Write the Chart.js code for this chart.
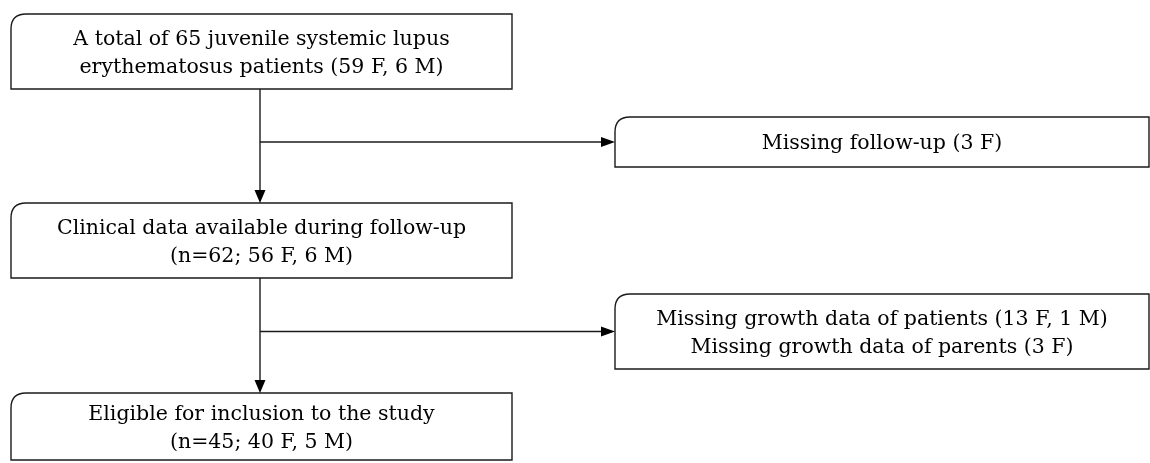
<!DOCTYPE html>
<html lang="en">
<head>
  <meta charset="UTF-8">
  <title>Flow chart</title>
  <script src="https://cdn.jsdelivr.net/npm/chart.js"></script>
  <style>
    html, body { margin: 0; padding: 0; background: #fff; }
  </style>
</head>
<body>
  <canvas id="flowChart" width="1150" height="463"></canvas>
  <script>
    // box texts (one entry per box, lines split by \n)
    const boxLabels = [
      'A total of 65 juvenile systemic lupus\nerythematosus patients (59 F, 6 M)',
      'Missing follow-up (3 F)',
      'Clinical data available during follow-up\n(n=62; 56 F, 6 M)',
      'Missing growth data of patients (13 F, 1 M)\nMissing growth data of parents (3 F)',
      'Eligible for inclusion to the study\n(n=45; 40 F, 5 M)'
    ];
    // box extents in chart units
    const boxLeft = [11, 615, 11, 615, 11];
    const boxRight = [512, 1149, 512, 1149, 512];
    const boxTop = [14, 117, 203, 294, 393];
    const boxBottom = [89, 167, 278, 369, 460];

    // main vertical connectors: from box -> to box
    const trunkFrom = [0, 2];
    const trunkTo = [2, 4];
    const trunkX = 260;
    // side branches: from trunk to the right boxes
    const branchTo = [1, 3];

    const flowPlugin = {
      id: 'flow',
      afterDraw(chart) {
        const ctx = chart.ctx;
        const xs = chart.scales.x, ys = chart.scales.y;
        const px = v => xs.getPixelForValue(v);
        const py = v => ys.getPixelForValue(v);
        ctx.save();
        ctx.strokeStyle = '#1a1a1a';
        ctx.fillStyle = '#000';
        ctx.lineWidth = 1.4;

        // boxes, only the top-left corner is rounded
        boxLabels.forEach((lab, i) => {
          const x0 = px(boxLeft[i]), x1 = px(boxRight[i]);
          const y0 = py(boxTop[i]), y1 = py(boxBottom[i]);
          const r = 15;
          ctx.beginPath();
          ctx.moveTo(x0, y1);
          ctx.lineTo(x0, y0 + r);
          ctx.quadraticCurveTo(x0, y0, x0 + r, y0);
          ctx.lineTo(x1, y0);
          ctx.lineTo(x1, y1);
          ctx.closePath();
          ctx.stroke();

          const lines = lab.split('\n');
          const lh = 28;
          const cy = (y0 + y1) / 2 + 2;
          ctx.font = '20.5px "DejaVu Serif"';
          ctx.textAlign = 'center';
          ctx.textBaseline = 'middle';
          lines.forEach((t, k) => {
            ctx.fillText(t, (x0 + x1) / 2, cy + (k - (lines.length - 1) / 2) * lh);
          });
        });

        function arrowHead(x, y, dir) {
          ctx.beginPath();
          if (dir === 'down') {
            ctx.moveTo(x, y);
            ctx.lineTo(x - 5.5, y - 13);
            ctx.lineTo(x + 5.5, y - 13);
          } else {
            ctx.moveTo(x, y);
            ctx.lineTo(x - 14, y - 5);
            ctx.lineTo(x - 14, y + 5);
          }
          ctx.closePath();
          ctx.fill();
        }

        // vertical trunk arrows
        trunkFrom.forEach((f, i) => {
          const t = trunkTo[i];
          const x = px(trunkX);
          ctx.beginPath();
          ctx.moveTo(x, py(boxBottom[f]));
          ctx.lineTo(x, py(boxTop[t]) - 10);
          ctx.stroke();
          arrowHead(x, py(boxTop[t]), 'down');
        });

        // side branches to the exclusion boxes
        branchTo.forEach(b => {
          const y = py((boxTop[b] + boxBottom[b]) / 2);
          ctx.beginPath();
          ctx.moveTo(px(trunkX), y);
          ctx.lineTo(px(boxLeft[b]) - 10, y);
          ctx.stroke();
          arrowHead(px(boxLeft[b]), y, 'right');
        });
        ctx.restore();
      }
    };

    new Chart(document.getElementById('flowChart'), {
      type: 'scatter',
      data: { datasets: [{ data: [], pointRadius: 0 }] },
      options: {
        responsive: false,
        animation: false,
        layout: { padding: 0 },
        plugins: { legend: { display: false }, tooltip: { enabled: false } },
        scales: {
          x: { type: 'linear', min: 0, max: 1150, display: false },
          y: { type: 'linear', min: 0, max: 463, reverse: true, display: false }
        }
      },
      plugins: [flowPlugin]
    });
  </script>
</body>
</html>
